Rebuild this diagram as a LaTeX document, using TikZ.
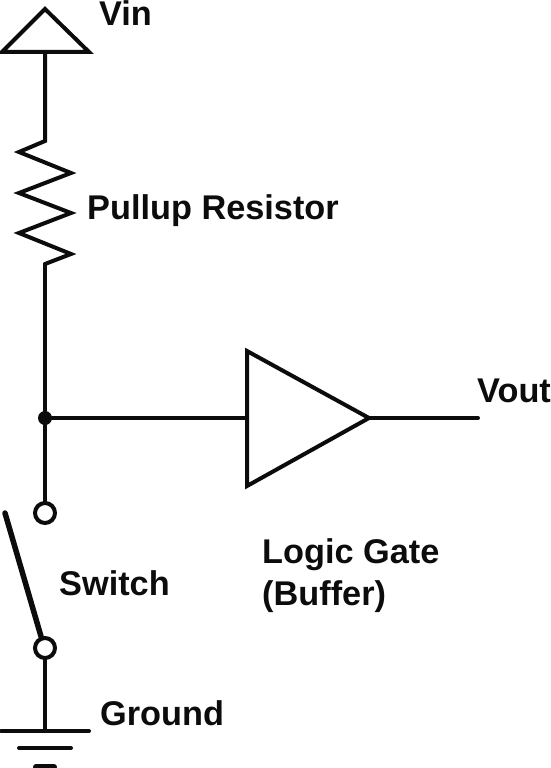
\documentclass[tikz,border=0pt]{standalone}
\usepackage{fontspec}
\setmainfont{Liberation Sans}
\usepackage{xcolor}
\definecolor{ink}{HTML}{0C0C0C}
\tikzset{
  base/.style={draw=ink, line width=4pt, line cap=round, line join=miter},
  lever/.style={draw=ink, line width=5.5pt, line cap=round},
  term/.style={circle, draw=ink, fill=white, line width=4pt, minimum size=20pt, inner sep=0pt},
  dot/.style={circle, fill=ink, minimum size=14pt, inner sep=0pt},
  lab/.style={text=ink, font=\fontsize{34.3}{40}\selectfont\bfseries, anchor=base west, inner sep=0pt, align=left},
}
\begin{document}
\begin{tikzpicture}[x=1pt,y=-1pt]
  \useasboundingbox (0,0) rectangle (551,768);
  % supply
  \coordinate (Top) at (45,9);
  \coordinate (VL) at (2,52);
  \coordinate (VR) at (89,52);
  \coordinate (VM) at (45,52);
  \draw[base] (Top)--(VR)--(VL)--cycle;
  \node[lab] (vin) at (99,26) {Vin};
  % resistor
  \coordinate (R0) at (45,141);
  \coordinate (R1) at (45,264);
  \draw[base] (VM)--(R0)--(19,152)--(71,173)--(19,193)--(71,213)--(19,233)--(71,254)--(R1);
  \node[lab] (pullup) at (87,219) {Pullup Resistor};
  % junction and switch
  \node[dot] (J) at (45,418) {};
  \node[term] (S1) at (45,513) {};
  \node[term] (S2) at (45,648) {};
  \coordinate (Arm) at (5,513);
  \draw[base] (R1)--(J);
  \draw[base] (J)--(S1);
  \draw[lever] (Arm)--(S2.109);
  \node[lab] (switch) at (59,595) {Switch};
  % buffer
  \coordinate (BA) at (247,351);
  \coordinate (BB) at (247,486);
  \coordinate (BC) at (369,418);
  \coordinate (BI) at (247,418);
  \coordinate (Out) at (478,418);
  \draw[base] (BA)--(BC)--(BB)--cycle;
  \draw[base] (J)--(BI);
  \draw[base] (BC)--(Out);
  \node[lab] (vout) at (477,402) {Vout};
  \node[lab] (gate) at (262,563) {Logic Gate};
  \node[lab] (buf) at (262,605) {(Buffer)};
  % ground
  \coordinate (G) at (45,731);
  \draw[base] (S2)--(G);
  \foreach \Y/\H/\W in {731/44/4,748/26/4,767/9/6}
    \draw[base,line width=\W pt] (45-\H,\Y)--(45+\H,\Y);
  \node[lab] (ground) at (100,725) {Ground};
\end{tikzpicture}
\end{document}
